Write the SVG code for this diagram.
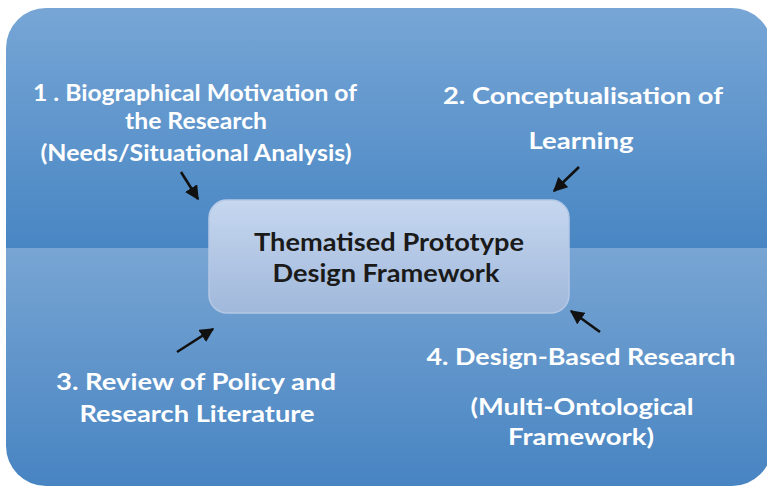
<svg xmlns="http://www.w3.org/2000/svg" width="767" height="488" viewBox="0 0 767 488">
  <defs>
    <linearGradient id="bgTop" x1="0" y1="0" x2="0" y2="1">
      <stop offset="0" stop-color="#77a6d6"/>
      <stop offset="1" stop-color="#4886c3"/>
    </linearGradient>
    <linearGradient id="bgBottom" x1="0" y1="0" x2="0" y2="1">
      <stop offset="0" stop-color="#78a5d3"/>
      <stop offset="1" stop-color="#4784c2"/>
    </linearGradient>
    <linearGradient id="boxFill" x1="0" y1="0" x2="0" y2="1">
      <stop offset="0" stop-color="#c6d7ef"/>
      <stop offset="1" stop-color="#a0b8db"/>
    </linearGradient>
    <clipPath id="panelClip">
      <rect x="6" y="8" width="766" height="478" rx="40" ry="40"/>
    </clipPath>
    <marker id="head" viewBox="0 0 10 10" refX="9" refY="5" markerWidth="5.5" markerHeight="5.5" orient="auto" markerUnits="strokeWidth">
      <path d="M0,0 L10,5 L0,10 Z" fill="#111"/>
    </marker>
  </defs>
  <style>
    .lbl { font-family: Lato, "Open Sans", "Liberation Sans", sans-serif; font-weight: bold; fill: #ffffff; text-anchor: middle; font-size: 23.5px; }
    .core { font-family: Lato, "Open Sans", "Liberation Sans", sans-serif; font-weight: bold; fill: #1a1a1a; text-anchor: middle; font-size: 25px; }
    .arrow { stroke: #111; stroke-width: 2.6; fill: none; marker-end: url(#head); }
  </style>

  <!-- background panel, split into two shaded bands -->
  <g id="panel" clip-path="url(#panelClip)">
    <rect x="6" y="8" width="766" height="240" fill="url(#bgTop)"/>
    <rect x="6" y="248" width="766" height="240" fill="url(#bgBottom)"/>
  </g>

  <!-- central framework box -->
  <g id="framework">
    <rect x="209" y="200" width="360" height="113" rx="18" ry="18" fill="url(#boxFill)" stroke="#b5c9e6" stroke-width="1.5"/>
    <text class="core" x="389" y="251" textLength="270" lengthAdjust="spacingAndGlyphs">Thematised Prototype</text>
    <text class="core" x="386" y="282" textLength="227" lengthAdjust="spacingAndGlyphs">Design Framework</text>
  </g>

  <g id="motivation">
    <text class="lbl" x="195" y="101" textLength="324" lengthAdjust="spacingAndGlyphs">1 . Biographical Motivation of</text>
    <text class="lbl" x="196" y="129" textLength="142" lengthAdjust="spacingAndGlyphs">the Research</text>
    <text class="lbl" x="196" y="161" textLength="311" lengthAdjust="spacingAndGlyphs">(Needs/Situational Analysis)</text>
  </g>

  <g id="conceptualisation">
    <text class="lbl" x="583" y="104" textLength="280" lengthAdjust="spacingAndGlyphs">2. Conceptualisation of</text>
    <text class="lbl" x="581" y="149" textLength="105" lengthAdjust="spacingAndGlyphs">Learning</text>
  </g>

  <g id="review">
    <text class="lbl" x="196" y="390" textLength="280" lengthAdjust="spacingAndGlyphs">3. Review of Policy and</text>
    <text class="lbl" x="197" y="422" textLength="235" lengthAdjust="spacingAndGlyphs">Research Literature</text>
  </g>

  <g id="dbr">
    <text class="lbl" x="581" y="365" textLength="309" lengthAdjust="spacingAndGlyphs">4. Design-Based Research</text>
    <text class="lbl" x="582" y="415" textLength="223" lengthAdjust="spacingAndGlyphs">(Multi-Ontological</text>
    <text class="lbl" x="581" y="445" textLength="146" lengthAdjust="spacingAndGlyphs">Framework)</text>
  </g>

  <!-- connectors pointing at the framework box -->
  <g id="connectors">
    <line class="arrow" x1="181" y1="172" x2="198" y2="199"/>
    <line class="arrow" x1="579" y1="167" x2="554" y2="191"/>
    <line class="arrow" x1="177" y1="352" x2="213" y2="329"/>
    <line class="arrow" x1="600" y1="332" x2="571" y2="311"/>
  </g>
</svg>
